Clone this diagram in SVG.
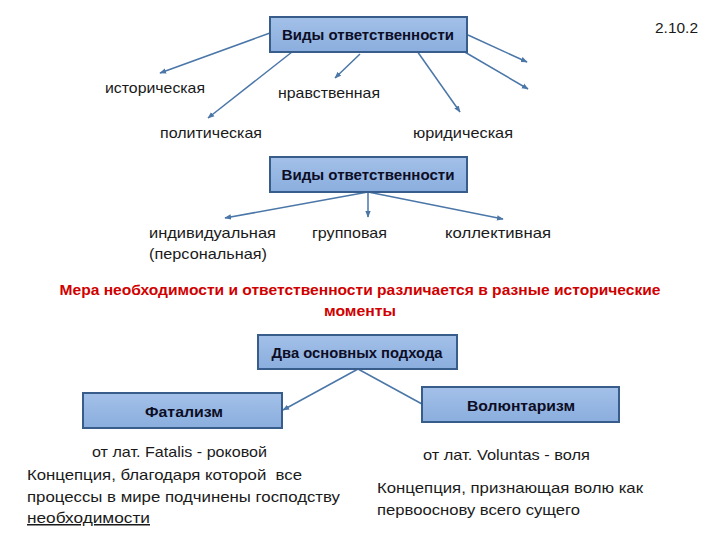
<svg xmlns="http://www.w3.org/2000/svg" width="720" height="540" viewBox="0 0 720 540">
<defs>
<linearGradient id="boxFill" x1="0" y1="0" x2="0" y2="1">
<stop offset="0" stop-color="#a3c0e8"/>
<stop offset="1" stop-color="#8aaede"/>
</linearGradient>
<marker id="arr" viewBox="0 0 10 10" refX="9" refY="5" markerWidth="4.5" markerHeight="4.5" orient="auto" markerUnits="strokeWidth">
<path d="M0,1 L10,5 L0,9 z" fill="#4a76a8"/>
</marker>
</defs>
<style>
.box{fill:url(#boxFill);stroke:#385d8a;stroke-width:2}
.bt{font-family:"Liberation Sans",Arial,sans-serif;font-weight:bold;font-size:15px;fill:#0d0d26;text-anchor:middle}
.t{font-family:"Liberation Sans",Arial,sans-serif;font-size:15px;fill:#1a1a1a}
.red{font-family:"Liberation Sans",Arial,sans-serif;font-weight:bold;font-size:15px;fill:#d00000;text-anchor:middle}
.c{stroke:#4a76a8;stroke-width:1.5;fill:none}
.ca{stroke:#4a76a8;stroke-width:1.5;fill:none;marker-end:url(#arr)}
</style>
<rect width="720" height="540" fill="#ffffff"/>

<g id="connectors">
<line class="ca" x1="270" y1="33" x2="160" y2="73"/>
<line class="ca" x1="292" y1="52" x2="208" y2="118"/>
<line class="ca" x1="360" y1="54" x2="335" y2="78"/>
<line class="ca" x1="417" y1="51" x2="460" y2="112"/>
<line class="ca" x1="468" y1="35" x2="527" y2="62"/>
<line class="ca" x1="463" y1="51" x2="528" y2="89"/>
<line class="ca" x1="368" y1="192" x2="225" y2="218"/>
<line class="ca" x1="368" y1="192" x2="368" y2="217"/>
<line class="ca" x1="368" y1="192" x2="503" y2="219"/>
<line class="ca" x1="358" y1="369" x2="283" y2="410"/>
<line class="c" x1="358" y1="369" x2="422" y2="404"/>
</g>

<g id="node-vidy1">
<rect class="box" x="270" y="17" width="197" height="35"/>
<text class="bt" x="368" y="40" textLength="172" lengthAdjust="spacingAndGlyphs">Виды ответственности</text>
</g>
<g id="label-num"><text class="t" x="655" y="33" font-size="18" textLength="43" lengthAdjust="spacingAndGlyphs">2.10.2</text></g>
<g id="node-istor"><text class="t" x="105" y="93" textLength="100" lengthAdjust="spacingAndGlyphs">историческая</text></g>
<g id="node-nravs"><text class="t" x="278" y="98" textLength="102" lengthAdjust="spacingAndGlyphs">нравственная</text></g>
<g id="node-polit"><text class="t" x="160" y="138" textLength="102" lengthAdjust="spacingAndGlyphs">политическая</text></g>
<g id="node-yurid"><text class="t" x="413" y="138" textLength="100" lengthAdjust="spacingAndGlyphs">юридическая</text></g>

<g id="node-vidy2">
<rect class="box" x="270" y="157" width="197" height="35"/>
<text class="bt" x="368" y="180" textLength="173" lengthAdjust="spacingAndGlyphs">Виды ответственности</text>
</g>
<g id="node-indiv">
<text class="t" x="149" y="238" textLength="127" lengthAdjust="spacingAndGlyphs">индивидуальная</text>
<text class="t" x="149" y="259" textLength="118" lengthAdjust="spacingAndGlyphs">(персональная)</text>
</g>
<g id="node-grup"><text class="t" x="312" y="238" textLength="75" lengthAdjust="spacingAndGlyphs">групповая</text></g>
<g id="node-koll"><text class="t" x="445" y="238" textLength="106" lengthAdjust="spacingAndGlyphs">коллективная</text></g>

<g id="label-mera">
<text class="red" x="360" y="295" textLength="601" lengthAdjust="spacingAndGlyphs">Мера необходимости и ответственности различается в разные исторические</text>
<text class="red" x="360" y="316" textLength="72" lengthAdjust="spacingAndGlyphs">моменты</text>
</g>

<g id="node-dva">
<rect class="box" x="258" y="335" width="199" height="34"/>
<text class="bt" x="357" y="358" textLength="171" lengthAdjust="spacingAndGlyphs">Два основных подхода</text>
</g>

<g id="node-fatal">
<rect class="box" x="83" y="393" width="199" height="35"/>
<text class="bt" x="184" y="417" textLength="78" lengthAdjust="spacingAndGlyphs">Фатализм</text>
</g>
<g id="node-volunt">
<rect class="box" x="422" y="387" width="197" height="35"/>
<text class="bt" x="521" y="411" textLength="108" lengthAdjust="spacingAndGlyphs">Волюнтаризм</text>
</g>

<g id="text-fatal">
<text class="t" x="92" y="457" textLength="175" lengthAdjust="spacingAndGlyphs">от лат. Fatalis - роковой</text>
<text class="t" x="27" y="480" textLength="275" lengthAdjust="spacingAndGlyphs" xml:space="preserve">Концепция, благодаря которой  все</text>
<text class="t" x="27" y="502" textLength="313" lengthAdjust="spacingAndGlyphs">процессы в мире подчинены господству</text>
<text class="t" x="27" y="523" textLength="123" lengthAdjust="spacingAndGlyphs" text-decoration="underline">необходимости</text>
</g>
<g id="text-volunt">
<text class="t" x="423" y="460" textLength="167" lengthAdjust="spacingAndGlyphs">от лат. Voluntas - воля</text>
<text class="t" x="377" y="493" textLength="266" lengthAdjust="spacingAndGlyphs">Концепция, признающая волю как</text>
<text class="t" x="377" y="515" textLength="203" lengthAdjust="spacingAndGlyphs">первооснову всего сущего</text>
</g>
</svg>
